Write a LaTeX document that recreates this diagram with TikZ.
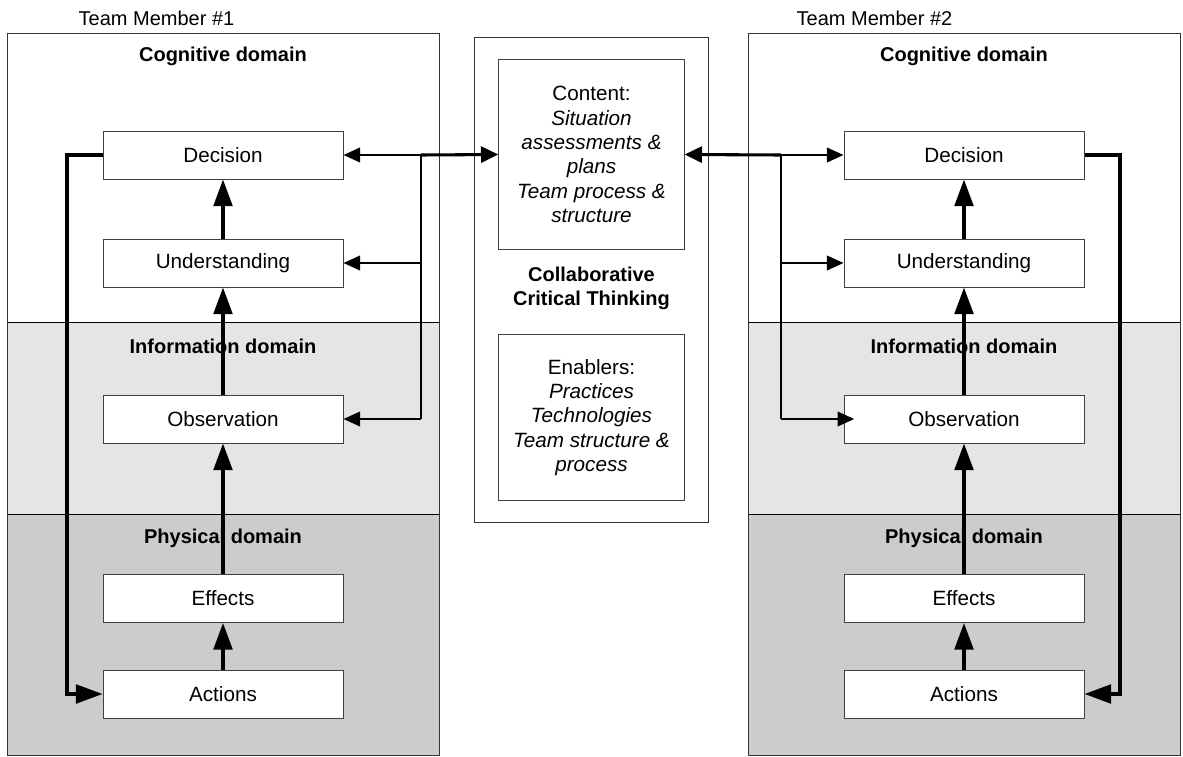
\documentclass[tikz,border=0pt]{standalone}
\usepackage{fontspec}
\setmainfont{Liberation Sans}
\usetikzlibrary{arrows.meta}

\definecolor{infogray}{HTML}{E5E5E5}
\definecolor{physgray}{HTML}{CCCCCC}

\tikzstyle{stage} = [draw=black!75,fill=white,line width=0.75pt,minimum width=180pt,minimum height=36pt,inner sep=0pt,font=\fontsize{15.5}{18}\selectfont]
\tikzstyle{domainlabel} = [font=\fontsize{15}{18}\selectfont\bfseries]
\tikzstyle{member} = [font=\fontsize{15}{18}\selectfont,anchor=west]
\tikzstyle{ctbox} = [draw=black!75,fill=white,line width=0.75pt,minimum width=139pt,inner sep=0pt,align=center,font=\fontsize{15.5}{18.3}\selectfont]
\tikzstyle{flow} = [line width=2.6pt,-{Triangle[length=20pt,width=14pt]}]
\tikzstyle{share} = [line width=2.3pt,-{Triangle[length=13pt,width=12pt]}]
\tikzstyle{bus} = [line width=1.5pt]
\tikzstyle{busarrow} = [line width=1.5pt,-{Triangle[length=12.5pt,width=11pt]}]

\begin{document}
\begin{tikzpicture}[x=0.75pt,y=-0.75pt]
	\useasboundingbox (0,0) rectangle (1183,757);

	% team member panels
	\foreach \px in {7,748} {
		\fill[white] (\px,33) rectangle ++(432,289);
		\fill[infogray] (\px,322) rectangle ++(432,192);
		\fill[physgray] (\px,514) rectangle ++(432,241);
		\draw[line width=0.75pt] (\px,322) -- ++(432,0);
		\draw[line width=0.75pt] (\px,514) -- ++(432,0);
		\draw[line width=0.75pt,draw=black!80] (\px,33) rectangle ++(432,722);
	}

	\node[member] (tm1) at (74,18) {Team Member \#1};
	\node[member] (tm2) at (792,18) {Team Member \#2};

	\node[domainlabel] (cog1) at (223,56) {Cognitive domain};
	\node[domainlabel] (inf1) at (223,346) {Information domain};
	\node[domainlabel] (phy1) at (223,538) {Physical domain};
	\node[domainlabel] (cog2) at (964,56) {Cognitive domain};
	\node[domainlabel] (inf2) at (964,346) {Information domain};
	\node[domainlabel] (phy2) at (964,538) {Physical domain};

	% collaborative critical thinking
	\draw[line width=0.75pt,draw=black!80,fill=white] (474,37) rectangle (708,522);
	\node[ctbox,minimum height=143pt] (content) at (591.5,154.5)
		{Content:\\ \textit{Situation}\\ \textit{assessments \&}\\ \textit{plans}\\ \textit{Team process \&}\\ \textit{structure}};
	\node[domainlabel,align=center] (cct) at (591.5,288) {Collaborative\\Critical Thinking};
	\node[ctbox,minimum height=125pt] (enablers) at (591.5,417.5)
		{Enablers:\\ \textit{Practices}\\ \textit{Technologies}\\ \textit{Team structure \&}\\ \textit{process}};

	% stages of member 1
	\node[stage] (dec1) at (223,155) {Decision};
	\node[stage] (und1) at (223,263) {Understanding};
	\node[stage] (obs1) at (223,419) {Observation};
	\node[stage] (eff1) at (223,598.5) {Effects};
	\node[stage] (act1) at (223,694) {Actions};

	% stages of member 2
	\node[stage] (dec2) at (964,155) {Decision};
	\node[stage] (und2) at (964,263) {Understanding};
	\node[stage] (obs2) at (964,419) {Observation};
	\node[stage] (eff2) at (964,598.5) {Effects};
	\node[stage] (act2) at (964,694) {Actions};

	\foreach \m in {1,2} {
		\draw[flow] (act\m) -- (eff\m);
		\draw[flow] (eff\m) -- (obs\m);
		\draw[flow] (obs\m) -- (und\m);
		\draw[flow] (und\m) -- (dec\m);
	}

	% feedback loops
	\draw[flow] (dec1.west) -| (67,420) |- (act1.west);
	\draw[flow] (dec2.east) -| (1120,420) |- (act2.east);

	% links to the shared content
	\coordinate (lj1) at (421,155);
	\coordinate (lj2) at (421,263);
	\coordinate (lj3) at (421,419);
	\coordinate (rj1) at (781,155);
	\coordinate (rj2) at (781,263);
	\coordinate (rj3) at (781,419);

	\draw[bus] (lj1) -- (lj3);
	\draw[share] (lj1) -- (content.west);
	\draw[busarrow] (lj1) -- (dec1.east);
	\draw[busarrow] (lj2) -- (und1.east);
	\draw[busarrow] (lj3) -- (obs1.east);

	\draw[bus] (rj1) -- (rj3);
	\draw[share] (rj1) -- (content.east);
	\draw[busarrow] (rj1) -- (dec2.west);
	\draw[busarrow] (rj2) -- (und2.west);
	\draw[busarrow] (rj3) -- ([xshift=8pt]obs2.west);
\end{tikzpicture}
\end{document}
